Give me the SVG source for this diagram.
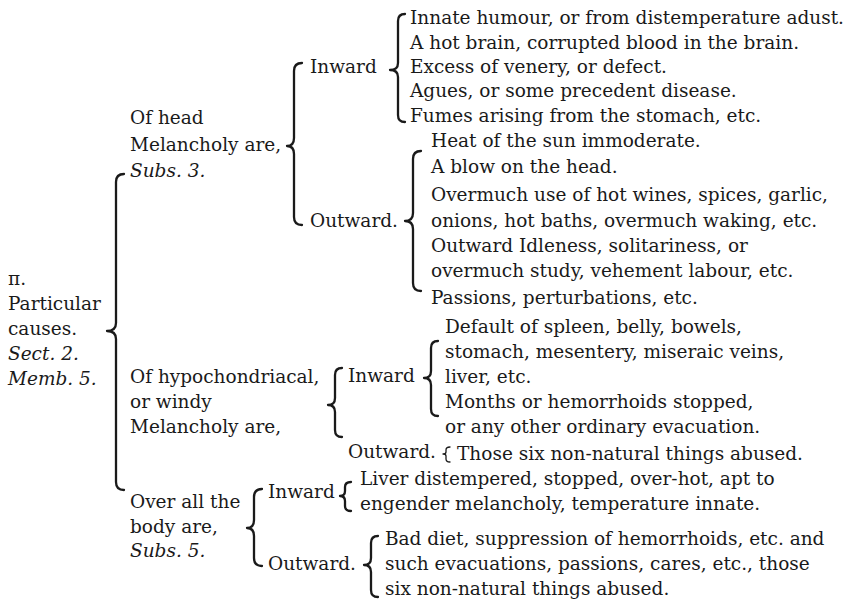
<svg xmlns="http://www.w3.org/2000/svg" width="847" height="602" viewBox="0 0 847 602">
<style>
text{font-family:"DejaVu Serif","Liberation Serif",serif;font-size:18.5px;fill:#1a1a1a}
.i{font-style:italic}
.br{fill:none;stroke:#1a1a1a;stroke-width:2.3;stroke-linecap:round;stroke-linejoin:round}
</style>
<rect width="847" height="602" fill="#ffffff"/>
<g id="connectors">
<path class="br" d="M124,174 Q116,174 116,182 L116,323 Q116,331 107,331 Q116,331 116,339 L116,482 Q116,490 124,490"/>
<path class="br" d="M302,63 Q294,63 294,71 L294,138 Q294,146 287,146 Q294,146 294,154 L294,217 Q294,225 302,225"/>
<path class="br" d="M405,14 Q398,14 398,21 L398,63 Q398,70 390,70 Q398,70 398,77 L398,115 Q398,122 405,122"/>
<path class="br" d="M421,151 Q413,151 413,159 L413,213 Q413,221 405,221 Q413,221 413,229 L413,283 Q413,291 421,291"/>
<path class="br" d="M342,368 Q335,368 335,375 L335,398 Q335,405 328,405 Q335,405 335,412 L335,430 Q335,437 342,437"/>
<path class="br" d="M438,341 Q431,341 431,348 L431,371 Q431,378 424,378 Q431,378 431,385 L431,409 Q431,416 438,416"/>
<path class="br" style="stroke-width:1.3" d="M450,447 Q446,447 446,450 L446,452 Q446,454 443,454 Q446,454 446,456 L446,459 Q446,462 450,462"/>
<path class="br" d="M262,489 Q254,489 254,497 L254,520 Q254,528 247,528 Q254,528 254,536 L254,558 Q254,566 262,566"/>
<path class="br" d="M351,482 Q345,482 345,487 L345,491 Q345,496 340,496 Q345,496 345,501 L345,506 Q345,511 351,511"/>
<path class="br" d="M378,536 Q371,536 371,543 L371,558 Q371,565 364,565 Q371,565 371,572 L371,590 Q371,597 378,597"/>
</g>
<g id="root">
<text x="8" y="285">π.</text>
<text x="8" y="310">Particular</text>
<text x="8" y="335">causes.</text>
<text x="8" y="360" class="i">Sect. 2.</text>
<text x="8" y="385" class="i">Memb. 5.</text>
</g>
<g id="head">
<text x="130" y="124">Of head</text>
<text x="130" y="151">Melancholy are,</text>
<text x="130" y="177" class="i">Subs. 3.</text>
</g>
<g id="head-inward">
<text x="310" y="73">Inward</text>
</g>
<g id="head-inward-items">
<text x="410" y="24">Innate humour, or from distemperature adust.</text>
<text x="410" y="49">A hot brain, corrupted blood in the brain.</text>
<text x="410" y="73">Excess of venery, or defect.</text>
<text x="410" y="97">Agues, or some precedent disease.</text>
<text x="410" y="122">Fumes arising from the stomach, etc.</text>
</g>
<g id="head-outward">
<text x="310" y="227">Outward.</text>
</g>
<g id="head-outward-items">
<text x="431" y="147">Heat of the sun immoderate.</text>
<text x="431" y="173">A blow on the head.</text>
<text x="431" y="201">Overmuch use of hot wines, spices, garlic,</text>
<text x="431" y="227">onions, hot baths, overmuch waking, etc.</text>
<text x="431" y="252">Outward Idleness, solitariness, or</text>
<text x="431" y="277">overmuch study, vehement labour, etc.</text>
<text x="431" y="304">Passions, perturbations, etc.</text>
</g>
<g id="hypo">
<text x="130" y="383">Of hypochondriacal,</text>
<text x="130" y="408">or windy</text>
<text x="130" y="433">Melancholy are,</text>
</g>
<g id="hypo-inward">
<text x="348" y="382">Inward</text>
</g>
<g id="hypo-inward-items">
<text x="445" y="333">Default of spleen, belly, bowels,</text>
<text x="445" y="358">stomach, mesentery, miseraic veins,</text>
<text x="445" y="383">liver, etc.</text>
<text x="445" y="408">Months or hemorrhoids stopped,</text>
<text x="445" y="433">or any other ordinary evacuation.</text>
</g>
<g id="hypo-outward">
<text x="348" y="458">Outward.</text>
</g>
<g id="hypo-outward-items">
<text x="457" y="460">Those six non-natural things abused.</text>
</g>
<g id="body">
<text x="130" y="508">Over all the</text>
<text x="130" y="533">body are,</text>
<text x="130" y="557" class="i">Subs. 5.</text>
</g>
<g id="body-inward">
<text x="268" y="498">Inward</text>
</g>
<g id="body-inward-items">
<text x="360" y="485">Liver distempered, stopped, over-hot, apt to</text>
<text x="360" y="510">engender melancholy, temperature innate.</text>
</g>
<g id="body-outward">
<text x="268" y="570">Outward.</text>
</g>
<g id="body-outward-items">
<text x="385" y="545">Bad diet, suppression of hemorrhoids, etc. and</text>
<text x="385" y="570">such evacuations, passions, cares, etc., those</text>
<text x="385" y="595">six non-natural things abused.</text>
</g>
</svg>
